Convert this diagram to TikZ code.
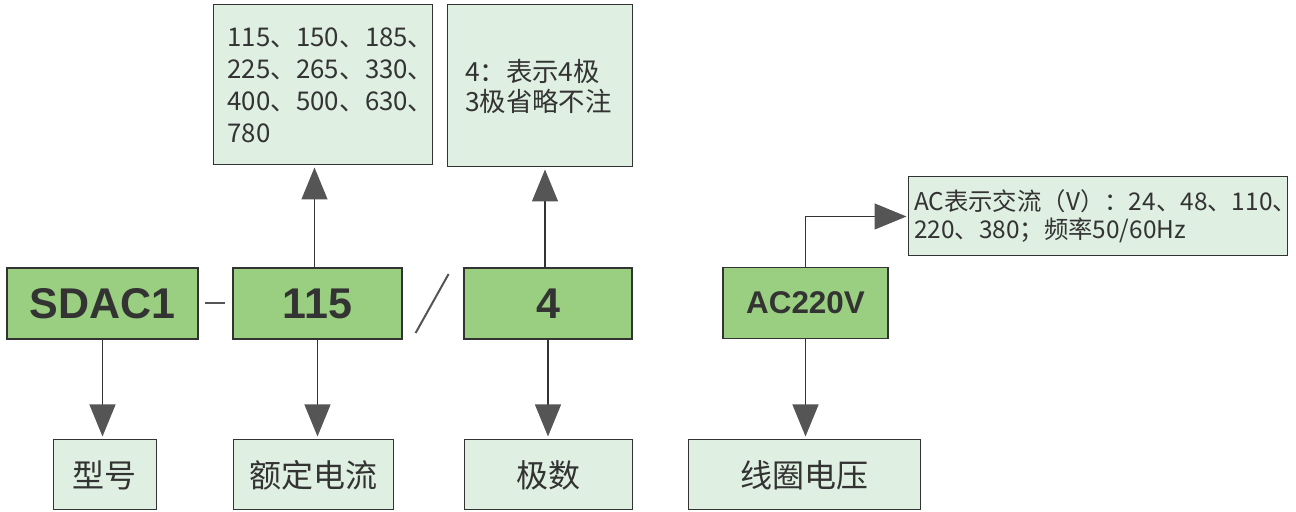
\documentclass[tikz,border=0pt]{standalone}
\usepackage{fontspec}
\usepackage{xcolor}
\usetikzlibrary{arrows.meta}
\newfontfamily\cjk{Noto Sans CJK SC}
\newfontfamily\hel{Liberation Sans}
\definecolor{boxgreen}{HTML}{9ACE80}
\definecolor{notegreen}{HTML}{DFEFE2}
\definecolor{inkgray}{HTML}{333333}
\definecolor{tipgray}{HTML}{555555}

\begin{document}
\begin{tikzpicture}[
            x=0.5pt, y=-0.5pt,
            codebox/.style={draw=inkgray, fill=boxgreen, line width=0.6pt, minimum height=35.5pt, text=inkgray, inner sep=0pt},
            notebox/.style={draw=inkgray, fill=notegreen, line width=0.5pt, text=inkgray, inner sep=0pt, font=\cjk},
            namebox/.style={notebox, minimum height=35pt, font=\cjk\fontsize{16}{18}\selectfont},
            pointer/.style={draw=inkgray, line width=0.6pt, -{Triangle[length=16pt, width=13pt, color=tipgray, fill=tipgray]}}
        ]

            \useasboundingbox (0, 0) rectangle (1296, 512);

            % code fields
            \node[codebox, minimum width=95.5pt, font=\hel\bfseries\fontsize{21.5}{24}\selectfont] (sdac) at (102.5, 303.5) {SDAC1};
            \node[codebox, minimum width=84.5pt, font=\hel\bfseries\fontsize{21.5}{24}\selectfont] (cur) at (317.5, 303.5) {115};
            \node[codebox, minimum width=84pt, font=\hel\bfseries\fontsize{21.5}{24}\selectfont] (pole) at (548, 303.5) {4};
            \node[codebox, minimum width=82.5pt, font=\hel\bfseries\fontsize{15.7}{18}\selectfont] (volt) at (805.5, 303) {AC220V};

            % notes above
            \node[notebox, minimum width=109.5pt, minimum height=80pt, text width=95pt, align=left,
                  font=\cjk\fontsize{12.9}{16}\selectfont] (curlist) at (322.5, 85)
                {115、150、185、\\225、265、330、\\400、500、630、\\780};
            \node[notebox, minimum width=92.5pt, minimum height=81pt, text width=74.5pt, align=left,
                  font=\cjk\fontsize{13.2}{15}\selectfont] (polenote) at (539.5, 86)
                {4：表示4极\\3极省略不注\\[3pt]};
            \node[notebox, minimum width=189.5pt, minimum height=39.5pt, text width=183.5pt, align=left,
                  font=\cjk\fontsize{12.2}{14}\selectfont] (acnote) at (1097.5, 216.5)
                {AC表示交流（V）：24、48、110\rlap{、}\\220、380；频率50/60Hz};

            % names below
            \node[namebox, minimum width=51.5pt] (xing) at (104.5, 475) {型号};
            \node[namebox, minimum width=80pt] (eding) at (313, 475) {额定电流};
            \node[namebox, minimum width=84pt] (jishu) at (548, 475) {极数};
            \node[namebox, minimum width=116pt] (xianquan) at (804, 475) {线圈电压};

            % separators
            \draw[tipgray, line width=1pt] ([xshift=3pt]sdac.east) -- ([xshift=-3.5pt]cur.west);
            \draw[tipgray, line width=1pt] ([xshift=6.5pt, yshift=-14.75pt]cur.east) -- ([xshift=23pt, yshift=14.75pt]cur.east);

            % arrows
            \draw[pointer, shorten >=1.5pt] (sdac.south) -- (sdac.south |- xing.north);
            \draw[pointer, shorten >=1.5pt] (cur.south) -- (cur.south |- eding.north);
            \draw[pointer, shorten >=1.5pt] (pole.south) -- (pole.south |- jishu.north);
            \draw[pointer, shorten >=1.5pt] (volt.south) -- (volt.south |- xianquan.north);

            \draw[pointer, shorten >=1pt] ([xshift=-1.5pt]cur.north) -- ([xshift=-1.5pt]cur.north |- curlist.south);
            \draw[pointer, shorten >=1pt] ([xshift=-1.5pt]pole.north) -- ([xshift=-1.5pt]pole.north |- polenote.south);
            \draw[pointer, shorten >=0.5pt] (volt.north) |- (acnote.west);
        \end{tikzpicture}
\end{document}
